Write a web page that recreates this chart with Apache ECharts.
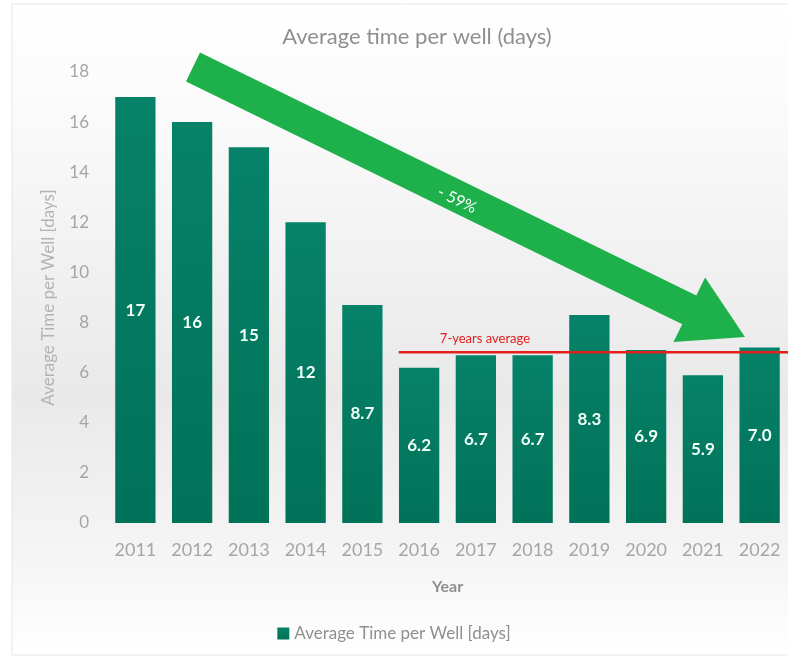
<!DOCTYPE html>
<html>
<head>
<meta charset="utf-8">
<script src="https://cdn.jsdelivr.net/npm/echarts@6/dist/echarts.min.js"></script>
<style>html,body{margin:0;padding:0;background:#fff;}#c{width:788px;height:661px;}</style>
</head>
<body>
<div id="c"></div>
<script>
const years = ['2011','2012','2013','2014','2015','2016','2017','2018','2019','2020','2021','2022'];
const avgTime = [17, 16, 15, 12, 8.7, 6.2, 6.7, 6.7, 8.3, 6.9, 5.9, 7.0];
const avgFrom = '2016';
const avgTo = '2022';
const sevenYearAvg = 6.81;
const yTicks = {min: 0, max: 18, interval: 2};

const FONT = 'Lato, "Open Sans", sans-serif';
const chart = echarts.init(document.getElementById('c'));

const option = {
  animation: false,
  textStyle: {fontFamily: FONT},
  title: {
    text: 'Average time per well (days)',
    left: 412, top: 21, textAlign: 'center',
    textStyle: {color: '#8f8f8f', fontSize: 22, fontWeight: 'normal', fontFamily: FONT}
  },
  legend: {
    bottom: 14, left: 'center',
    icon: 'rect', itemWidth: 12, itemHeight: 12, itemGap: 6,
    textStyle: {color: '#8f8f8f', fontSize: 17, fontFamily: FONT},
    data: ['Average Time per Well [days]']
  },
  grid: {left: 107, right: -3, top: 72, bottom: 138},
  xAxis: {
    type: 'category', data: years,
    axisLine: {show: false}, axisTick: {show: false},
    axisLabel: {color: '#a6a6a6', fontSize: 18, margin: 18},
    name: 'Year', nameLocation: 'middle', nameGap: 56,
    nameTextStyle: {color: '#8f8f8f', fontSize: 16, fontWeight: 'bold'}
  },
  yAxis: {
    type: 'value', min: yTicks.min, max: yTicks.max, interval: yTicks.interval,
    axisLine: {show: false}, axisTick: {show: false}, splitLine: {show: false},
    axisLabel: {color: '#a6a6a6', fontSize: 17, margin: 18},
    name: 'Average Time per Well [days]', nameLocation: 'middle', nameGap: 50,
    nameTextStyle: {color: '#b3b3b3', fontSize: 17}
  },
  series: [
    {
      name: 'Average Time per Well [days]',
      type: 'bar', data: avgTime, barWidth: '71%',
      itemStyle: {
        color: {type: 'linear', x: 0, y: 0, x2: 0, y2: 1,
          colorStops: [{offset: 0, color: '#068268'}, {offset: 1, color: '#007259'}]}
      },
      label: {
        show: true, position: 'inside', color: '#f0fff8', fontWeight: 'bold', fontSize: 17,
        formatter: p => (Number.isInteger(p.value) && p.value >= 10) ? String(p.value) : p.value.toFixed(1)
      },
      z: 2
    },
    {
      type: 'custom', name: 'avg', silent: true, z: 5,
      data: [[years.indexOf(avgFrom), years.indexOf(avgTo), sevenYearAvg]],
      renderItem: function (params, api) {
        const p1 = api.coord([api.value(0), api.value(2)]);
        const p2 = api.coord([api.value(1), api.value(2)]);
        const bw = api.size([1, 0])[0];
        const x1 = p1[0] - bw * 0.36;
        const x2 = p2[0] + bw * 0.5;
        return {
          type: 'group',
          children: [
            {type: 'line', shape: {x1: x1, y1: p1[1], x2: x2, y2: p2[1]},
             style: {stroke: '#e3201c', lineWidth: 2.5}},
            {type: 'text', x: p1[0] + bw * 1.16, y: p1[1] - 14,
             style: {text: '7-years average', fill: '#e3201c', fontSize: 13, fontFamily: FONT,
                     align: 'center', verticalAlign: 'middle'}}
          ]
        };
      }
    }
  ],
  graphic: [
    {
      type: 'rect', z: -10, silent: true,
      shape: {x: 12, y: 4, width: 790, height: 651},
      style: {
        fill: {type: 'linear', x: 0, y: 0, x2: 0, y2: 1,
          colorStops: [{offset: 0, color: '#ffffff'}, {offset: 0.15, color: '#fbfbfb'},
                       {offset: 0.6, color: '#e9e9e9'}, {offset: 0.85, color: '#f5f5f5'},
                       {offset: 1, color: '#ffffff'}]},
        stroke: '#e6e6e6', lineWidth: 1
      }
    },
    {
      type: 'polygon', z: 100, silent: true,
      shape: {points: [[200, 52.6], [696.3, 295.4], [705.1, 277.5], [745, 337], [673.5, 342.1], [682.3, 324.2], [186, 81.4]]},
      style: {fill: '#1db04b'}
    },
    {
      type: 'text', z: 101, silent: true,
      x: 457, y: 200, rotation: -0.455,
      style: {text: '- 59%', fill: '#ffffff', fontSize: 16, fontFamily: FONT, align: 'center', verticalAlign: 'middle'}
    }
  ]
};
chart.setOption(option);
</script>
</body>
</html>
